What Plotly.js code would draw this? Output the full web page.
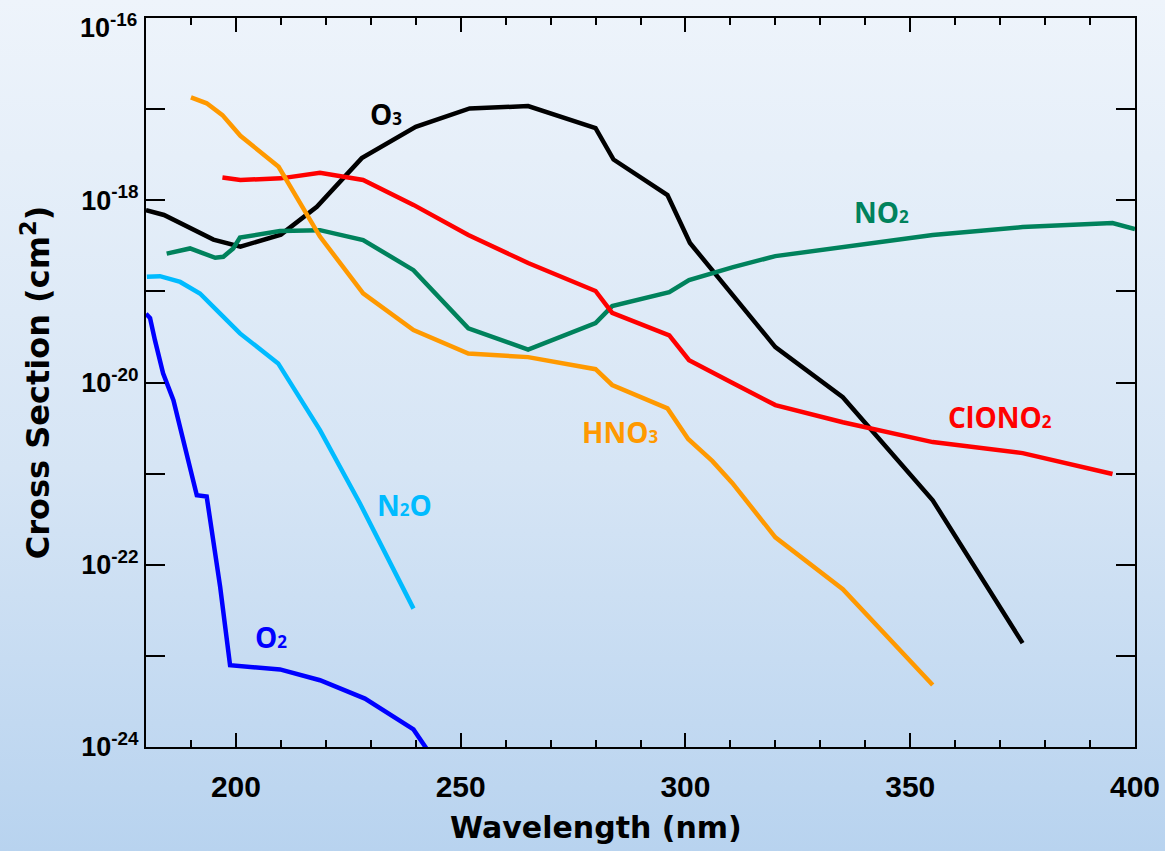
<!DOCTYPE html>
<html>
<head>
<meta charset="utf-8">
<script src="https://cdn.plot.ly/plotly-3.0.1.min.js"></script>
<style>
  html, body { margin: 0; padding: 0; }
  body {
    width: 1165px; height: 851px; overflow: hidden;
    background: linear-gradient(to bottom, #eef4fb 0%, #d6e5f5 55%, #b8d3ef 100%);
  }
  #chart { width: 1165px; height: 851px; }
</style>
</head>
<body>
<div id="chart"></div>
<script>
// Absorption cross sections (cm^2) versus wavelength (nm)
const o3Nm   = [180, 184, 195, 201, 210, 218, 228, 240, 252, 265, 280, 284, 296, 301, 320, 335, 355, 375];
const o3Xs   = [7.8e-19, 6.9e-19, 3.7e-19, 3.1e-19, 4.2e-19, 8.5e-19, 2.9e-18, 6.4e-18, 1.02e-17, 1.08e-17,
                6.2e-18, 2.8e-18, 1.14e-18, 3.4e-19, 2.45e-20, 6.9e-21, 5.1e-22, 1.38e-23];

const hno3Nm = [190, 193.5, 197, 201, 209.5, 218.7, 228.3, 239.5, 251.7, 265, 280, 283.7, 296, 300.6, 306, 310.4, 320, 335, 355];
const hno3Xs = [1.35e-17, 1.16e-17, 8.6e-18, 5.1e-18, 2.33e-18, 4.0e-19, 9.5e-20, 3.76e-20, 2.08e-20, 1.9e-20,
                1.4e-20, 9.4e-21, 5.2e-21, 2.4e-21, 1.37e-21, 7.9e-22, 2.0e-22, 5.4e-23, 4.8e-24];

const clono2Nm = [197, 201, 210, 218.7, 228.3, 239.5, 251.7, 265, 280, 283.7, 296.4, 300.8, 310.6, 320, 335, 355, 375, 395];
const clono2Xs = [1.78e-18, 1.67e-18, 1.74e-18, 2.0e-18, 1.67e-18, 8.9e-19, 4.15e-19, 2.05e-19, 1.01e-19, 5.8e-20,
                  3.3e-20, 1.76e-20, 9.8e-21, 5.65e-21, 3.67e-21, 2.22e-21, 1.68e-21, 9.9e-22];

const no2Nm  = [184.6, 189.8, 195.4, 197.2, 199.4, 200.9, 209.8, 218.7, 228.3, 239.5, 251.7, 265, 280, 283.7,
                296.4, 300.8, 310.6, 320, 355, 375, 395, 400];
const no2Xs  = [2.6e-19, 2.96e-19, 2.34e-19, 2.4e-19, 2.96e-19, 3.9e-19, 4.6e-19, 4.7e-19, 3.66e-19, 1.71e-19,
                3.93e-20, 2.3e-20, 4.5e-20, 6.9e-20, 9.8e-20, 1.33e-19, 1.85e-19, 2.44e-19, 4.15e-19, 5.08e-19,
                5.62e-19, 4.83e-19];

const n2oNm  = [180.2, 183.1, 187.6, 192, 196.5, 200.9, 209.4, 218.7, 227.6, 239.5];
const n2oXs  = [1.45e-19, 1.47e-19, 1.27e-19, 9.5e-20, 5.7e-20, 3.46e-20, 1.62e-20, 3.0e-21, 4.7e-22, 3.3e-23];

const o2Nm   = [180, 180.9, 182, 183.8, 186.1, 188.3, 191.3, 193.5, 196.5, 198.7, 209.8, 218.7, 228.7, 239.5, 242.4];
const o2Xs   = [5.7e-20, 5.1e-20, 2.9e-20, 1.26e-20, 6.4e-21, 2.33e-21, 5.8e-22, 5.6e-22, 5.7e-23, 7.9e-24,
                7.1e-24, 5.4e-24, 3.4e-24, 1.56e-24, 9.6e-25];

// Decade ticks; only even exponents carry a label (the top one is set just below its tick)
const yTickVals = [1e-24, 1e-23, 1e-22, 1e-21, 1e-20, 1e-19, 1e-18, 1e-17, 1e-16];
const yTickText = ['10<sup>-24</sup>', '', '10<sup>-22</sup>', '', '10<sup>-20</sup>', '',
                   '10<sup>-18</sup>', '', ''];
const yTopLabel = '10<sup>-16</sup>';

// Species names drawn beside their curves, with label anchor (nm, log10 cross section)
const sub = d => '<span style="font-size:17px">' + d + '</span>';
const speciesNames = ['O' + sub(3), 'NO' + sub(2), 'ClONO' + sub(2), 'HNO' + sub(3), 'N' + sub(2) + 'O', 'O' + sub(2)];
const labelNm  = [233.4, 343.7, 370.0, 285.5, 237.6, 207.8];
const labelLog = [-17.054, -18.130, -20.380, -20.544, -21.346, -22.795];
const colors   = ['#000000', '#00825c', '#ff0000', '#ff9900', '#00bbff', '#0000ff'];

const series = [
  [o3Nm, o3Xs], [no2Nm, no2Xs], [clono2Nm, clono2Xs], [hno3Nm, hno3Xs], [n2oNm, n2oXs], [o2Nm, o2Xs]
];

const traces = series.map((s, i) => ({
  x: s[0], y: s[1], type: 'scatter', mode: 'lines',
  line: { color: colors[i], width: 4.5 },
  hoverinfo: 'skip', showlegend: false
}));

const tickFontY = { family: 'Liberation Sans, Arial, sans-serif', size: 27, weight: 700, color: '#000' };

const annotations = speciesNames.map((t, i) => ({
  x: labelNm[i], y: labelLog[i], xref: 'x', yref: 'y',
  text: t, showarrow: false,
  font: { family: 'Open Sans, sans-serif', size: 28, weight: 700, color: colors[i] },
  xanchor: 'center', yanchor: 'middle'
}));

// top y label, nudged down so it stays inside the page
annotations.push({
  x: 0, y: 1, xref: 'paper', yref: 'paper', text: yTopLabel, showarrow: false,
  font: tickFontY, xanchor: 'right', yanchor: 'middle', xshift: -7, yshift: -8
});

// x-axis title, positioned relative to the plot area
annotations.push({
  x: 0.455, y: -0.111, xref: 'paper', yref: 'paper', text: 'Wavelength (nm)', showarrow: false,
  font: { family: 'DejaVu Sans, sans-serif', size: 30, weight: 700, color: '#000' },
  xanchor: 'center', yanchor: 'middle'
});

const layout = {
  width: 1165, height: 851,
  margin: { l: 146, r: 30, t: 18, b: 104 },
  paper_bgcolor: 'rgba(0,0,0,0)',
  plot_bgcolor: 'rgba(0,0,0,0)',
  showlegend: false,
  xaxis: {
    range: [180, 400],
    tickmode: 'linear', tick0: 200, dtick: 50,
    ticks: 'inside', ticklen: 14, tickwidth: 2, tickcolor: '#000',
    minor: { dtick: 10, tick0: 180, ticks: 'inside', ticklen: 7, tickwidth: 2, tickcolor: '#000', showgrid: false },
    showline: true, linecolor: '#000', linewidth: 2, mirror: 'allticks',
    showgrid: false, zeroline: false,
    ticklabelstandoff: 12,
    tickfont: { family: 'Liberation Sans, Arial, sans-serif', size: 30, weight: 700, color: '#000' }
  },
  yaxis: {
    type: 'log', range: [-24, -15.9995],
    tickmode: 'array', tickvals: yTickVals, ticktext: yTickText,
    ticks: 'inside', ticklen: 19, tickwidth: 2, tickcolor: '#000',
    showline: true, linecolor: '#000', linewidth: 2, mirror: 'allticks',
    showgrid: false, zeroline: false,
    tickfont: tickFontY,
    title: {
      text: 'Cross Section (cm<sup>2</sup>)',
      font: { family: 'DejaVu Sans, sans-serif', size: 32, weight: 700, color: '#000' },
      standoff: 22
    }
  },
  annotations: annotations
};

Plotly.newPlot('chart', traces, layout, { staticPlot: true, displayModeBar: false });
</script>
</body>
</html>
